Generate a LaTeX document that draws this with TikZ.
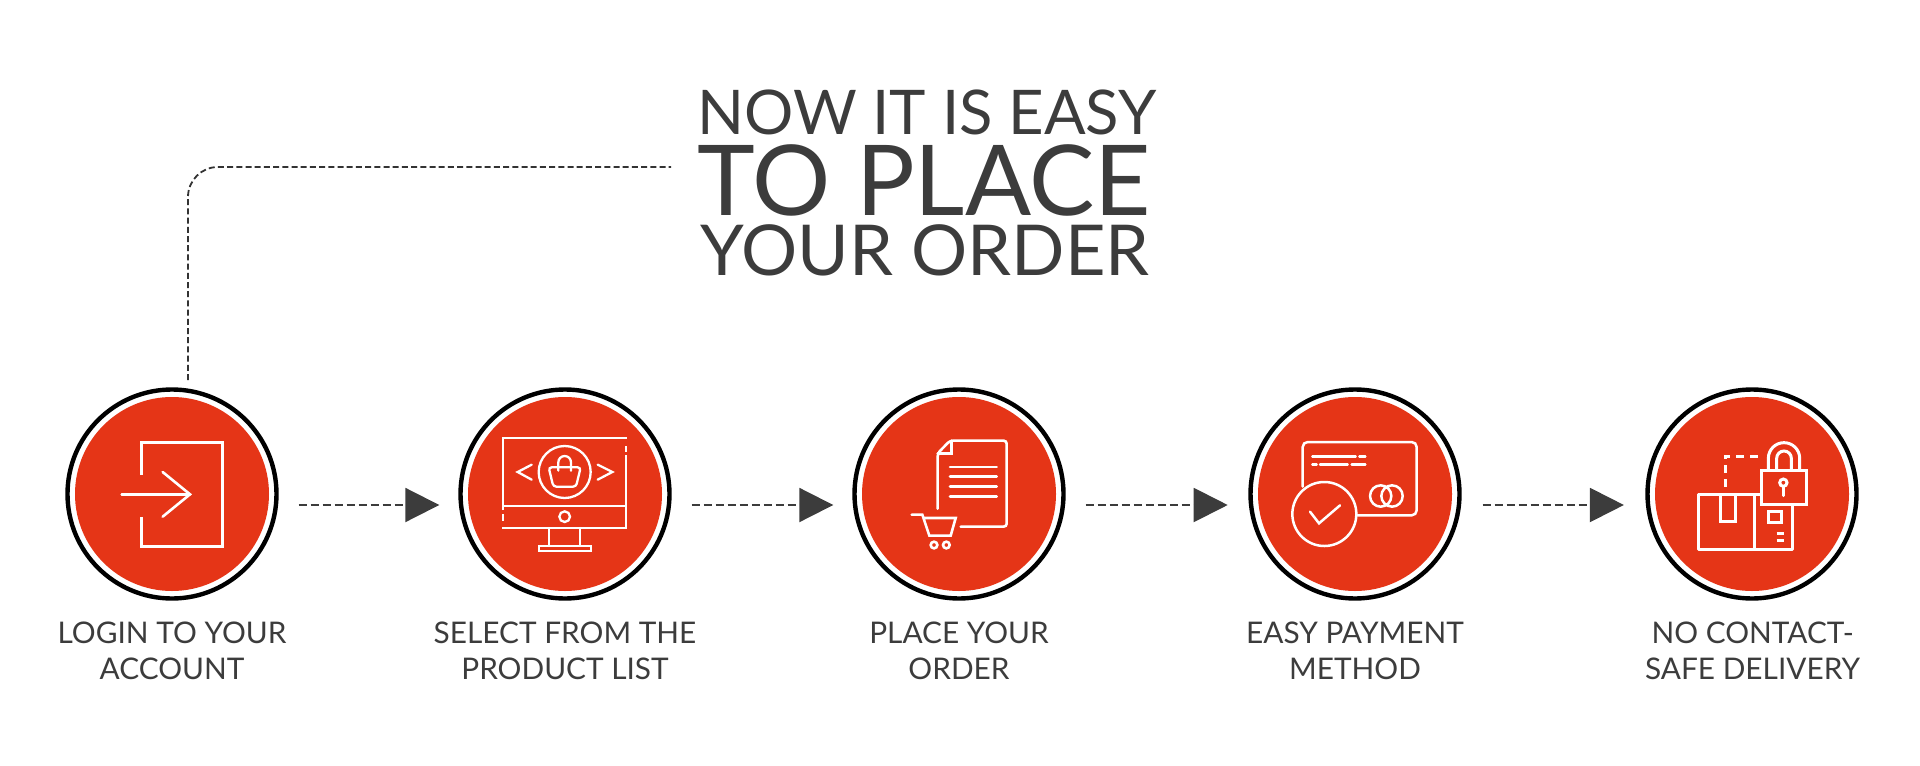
\documentclass[tikz,border=0pt]{standalone}
\usepackage{fontspec}
\setmainfont{Lato}
\usetikzlibrary{arrows.meta,positioning}
\definecolor{orderred}{HTML}{E53517}
\definecolor{ordergray}{HTML}{3C3C3C}
\tikzset{
  ring/.style={circle, draw=black, fill=white, line width=2.2pt, minimum size=104.5pt, inner sep=0pt},
  disc/.style={circle, fill=orderred, minimum size=97pt, inner sep=0pt},
  headline/.style={text=ordergray, inner sep=0pt},
  steplabel/.style={align=center, text=ordergray, font=\fontsize{14.9}{18}\selectfont, inner sep=0pt},
  flow/.style={draw=ordergray, line width=1pt, line cap=butt, dash pattern=on 4pt off 2pt, -{Triangle[length=17pt,width=17pt,fill=ordergray]}},
  leader/.style={draw=ordergray!85!black, line width=.9pt, dash pattern=on 3pt off 1.6pt, rounded corners=15pt},
  icon/.style={draw=white, line width=1.5pt, line cap=round},
  thinicon/.style={draw=white, line width=1.15pt, line cap=round},
  zoomed/.style={shift={#1}, x=.16667pt, y=-.16667pt},
}
\begin{document}
\begin{tikzpicture}[x=.5pt, y=-.5pt]
  \useasboundingbox (0,0) rectangle (1920,765);
  % headline
  \node[headline, font=\fontsize{30.8}{30.8}\selectfont] (easy) at (927,112) {NOW IT IS EASY};
  \node[headline, font=\fontsize{48.9}{48.9}\selectfont] (place) at (924.5,180) {TO PLACE};
  \node[headline, font=\fontsize{35.1}{35.1}\selectfont] (order) at (925,250) {YOUR ORDER};
  % steps
  \node[ring] (login) at (172,494) {};
  \node[ring] (select) at (565,494) {};
  \node[ring] (cart) at (959,494) {};
  \node[ring] (pay) at (1355,494) {};
  \node[ring] (deliver) at (1752,494) {};
  \node[disc] (loginDisc) at (login) {};
  \node[disc] (selectDisc) at (select) {};
  \node[disc] (cartDisc) at (cart) {};
  \node[disc] (payDisc) at (pay) {};
  \node[disc] (deliverDisc) at (deliver) {};
  \node[steplabel] (loginText) [below=10.3pt of login] {LOGIN TO YOUR\\ACCOUNT};
  \node[steplabel] (selectText) [below=10.3pt of select] {SELECT FROM THE\\PRODUCT LIST};
  \node[steplabel] (cartText) [below=10.3pt of cart] {PLACE YOUR\\ORDER};
  \node[steplabel] (payText) [below=10.3pt of pay] {EASY PAYMENT\\METHOD};
  \node[steplabel] (deliverText) [below=10.3pt of deliver, xshift=.3pt] {NO CONTACT-\\SAFE DELIVERY};
  % connectors
  \coordinate (leaderEnd) at (671,167);
  \coordinate (leaderStart) at (188,380);
  \draw[leader] (leaderStart) -- (leaderStart |- leaderEnd) -- (leaderEnd);
  \draw[flow] ([xshift=10pt,yshift=-5.5pt]login.east) -- ([xshift=-9.5pt,yshift=-5.5pt]select.west);
  \draw[flow] ([xshift=10pt,yshift=-5.5pt]select.east) -- ([xshift=-9.5pt,yshift=-5.5pt]cart.west);
  \draw[flow] ([xshift=10pt,yshift=-5.5pt]cart.east) -- ([xshift=-10.3pt,yshift=-5.5pt]pay.west);
  \draw[flow] ([xshift=10.5pt,yshift=-5.5pt]pay.east) -- ([xshift=-10.7pt,yshift=-5.5pt]deliver.west);
  % login icon
  \begin{scope}[zoomed={(50,370)}]
    \draw[icon, line width=1.3pt, line cap=butt] (274,315) -- (274,218) -- (517,218) -- (517,529) -- (274,529) -- (274,440);
    \draw[icon, line width=1.3pt] (215,373) -- (420,373);
    \draw[icon, line width=1.3pt] (338,306) -- (420,373) -- (338,440);
  \end{scope}
  % monitor icon
  \begin{scope}[zoomed={(450,370)}]
    \draw[thinicon, line cap=butt] (158,420) -- (158,204) -- (530,204);
    \draw[thinicon, line cap=butt] (529,228) -- (529,245) (529,255) -- (529,474) -- (157,474);
    \draw[thinicon, line cap=butt] (158,432) -- (158,452) (158,408) -- (529,408);
    \draw[thinicon] (298,474) -- (298,528) (390,474) -- (390,528);
    \draw[thinicon] (266,528) rectangle (422,544);
    \draw[thinicon] (344,440) circle [radius=16];
    \draw[thinicon] (344,306) circle [radius=78];
    \draw[thinicon] (245,284) -- (203,306) -- (245,329);
    \draw[thinicon] (443,284) -- (487,306) -- (443,329);
    \draw[thinicon, rounded corners=1.5pt] (296,292) -- (392,292) -- (378,350) -- (310,350) -- cycle;
    \draw[thinicon] (325,302) -- (325,277) arc [start angle=180, end angle=360, radius=19] -- (363,302);
  \end{scope}
  % order icon
  \begin{scope}[zoomed={(840,370)}]
    \draw[icon, line width=1.3pt, rounded corners=1.5pt] (293,416) -- (293,250) -- (330,212) -- (500,212) -- (500,470) -- (362,470);
    \draw[icon, line width=1.3pt] (293,250) -- (335,250) -- (335,212);
    \foreach \liney in {291,320,349,379}
      \draw[icon, line width=1.3pt] (330,\liney) -- (470,\liney);
    \draw[icon, line width=1.3pt] (215,434) -- (247,434) -- (268,497) -- (332,497) -- (347,444) -- (250,444);
    \draw[icon, line width=1.3pt] (282,525) circle [radius=10] (319,525) circle [radius=10];
  \end{scope}
  % payment icon
  \begin{scope}[zoomed={(1240,370)}]
    \draw[icon, line width=1.25pt, rounded corners=2.5pt] (188,350) -- (188,216) -- (530,216) -- (530,436) -- (352,436);
    \draw[icon, line width=1.25pt] (217,260) -- (347,260) (358,260) -- (376,260);
    \draw[icon, line width=1.25pt] (217,284) -- (230,284) (240,284) -- (323,284) (335,284) -- (376,284);
    \draw[icon, line width=1.25pt] (422,378) circle [radius=32] (456,378) circle [radius=32];
    \draw[icon, line width=1.25pt] (253,432) circle [radius=96];
    \draw[icon, line width=1.25pt] (210,425) -- (237,460) -- (300,406);
  \end{scope}
  % delivery icon
  \begin{scope}[zoomed={(1630,380)}]
    \draw[icon, line cap=butt, line join=round] (392,342) -- (205,342) -- (205,507) -- (487,507) -- (487,375);
    \draw[icon, line cap=butt] (374,342) -- (374,507);
    \draw[icon, line cap=butt] (270,342) -- (270,423) -- (315,423) -- (315,342);
    \draw[icon, line cap=butt] (415,395) rectangle (453,428);
    \draw[icon, line cap=butt] (440,460) -- (462,460) (440,482) -- (462,482);
    \draw[icon, line cap=butt, dash pattern=on 4pt off 3pt] (285,320) -- (285,228) -- (390,228);
    \draw[icon, line cap=butt] (393,270) rectangle (530,372);
    \draw[icon, line cap=butt] (415,270) -- (415,235) arc [start angle=180, end angle=360, radius=47] -- (509,270);
    \draw[icon, line cap=butt] (440,270) -- (440,235) arc [start angle=180, end angle=360, radius=22] -- (484,270);
    \draw[icon] (460,308) circle [radius=11];
    \draw[icon] (460,320) -- (460,347);
  \end{scope}
\end{tikzpicture}
\end{document}
